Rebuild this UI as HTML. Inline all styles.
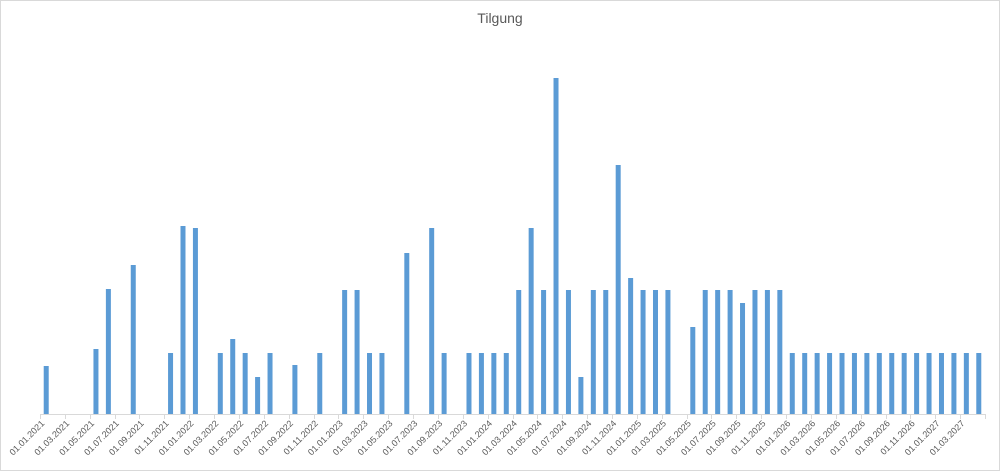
<!DOCTYPE html>
<html><head><meta charset="utf-8"><style>
html,body{margin:0;padding:0;background:#fff;}
svg{display:block;font-family:"Liberation Sans",sans-serif;}
</style></head><body>
<svg id="chart" width="1000" height="471">
<rect x="0.5" y="0.5" width="999" height="470" fill="#fff" stroke="#d9d9d9"/>
<text x="500" y="23" text-anchor="middle" font-size="14" fill="#595959">Tilgung</text>
<g id="bars"></g>
<line x1="40" y1="414.5" x2="985" y2="414.5" stroke="#d9d9d9"/>
<g id="ticks"></g>
</svg>
<script>
const categoryCount = 76;
const values = [48,0,0,0,65,125,0,149,0,0,61,188,186,0,61,75,61,37,61,0,49,0,61,0,124,124,61,61,0,161,0,186,61,0,61,61,61,61,124,186,124,336,124,37,124,124,249,136,124,124,124,0,87,124,124,124,111,124,124,124,61,61,61,61,61,61,61,61,61,61,61,61,61,61,61,61];
const tickLabels = ["01.01.2021","01.03.2021","01.05.2021","01.07.2021","01.09.2021","01.11.2021","01.01.2022","01.03.2022","01.05.2022","01.07.2022","01.09.2022","01.11.2022","01.01.2023","01.03.2023","01.05.2023","01.07.2023","01.09.2023","01.11.2023","01.01.2024","01.03.2024","01.05.2024","01.07.2024","01.09.2024","01.11.2024","01.01.2025","01.03.2025","01.05.2025","01.07.2025","01.09.2025","01.11.2025","01.01.2026","01.03.2026","01.05.2026","01.07.2026","01.09.2026","01.11.2026","01.01.2027","01.03.2027"];
const yMax = 340;
const ns = "http://www.w3.org/2000/svg";
const x0 = 40, x1 = 985, baseY = 414, plotH = 340;
const step = (x1 - x0) / categoryCount;
function xScale(i){ return x0 + step * i; }
function yScale(v){ return baseY - v / yMax * plotH; }
const bars = document.getElementById('bars');
values.forEach((v,i)=>{
  if(!v) return;
  const r = document.createElementNS(ns,'rect');
  
  
  const cx = xScale(i + 0.5);
  r.setAttribute('x', cx - 2.5);
  r.setAttribute('width', 5);
  r.setAttribute('y', yScale(v));
  r.setAttribute('height', baseY - yScale(v));
  r.setAttribute('fill', '#5b9bd5');
  bars.appendChild(r);
});
const ticks = document.getElementById('ticks');
for(let i=0;i<=categoryCount;i+=2){
  const l = document.createElementNS(ns,'line');
  
  
  const x = Math.round(xScale(i))+0.5;
  l.setAttribute('x1', x); l.setAttribute('x2', x);
  l.setAttribute('y1', 414); l.setAttribute('y2', 419);
  l.setAttribute('stroke', '#d9d9d9');
  ticks.appendChild(l);
}
tickLabels.forEach((lab,k)=>{
  const t = document.createElementNS(ns,'text');
  
  
  const x = xScale(k*2) + 5, y = 424;
  t.setAttribute('x', x); t.setAttribute('y', y);
  t.setAttribute('text-anchor', 'end');
  t.setAttribute('font-size', '9');
  t.setAttribute('fill', '#595959');
  t.setAttribute('transform', `rotate(-45 ${x} ${y})`);
  t.textContent = lab;
  ticks.appendChild(t);
});
</script>
</body></html>
